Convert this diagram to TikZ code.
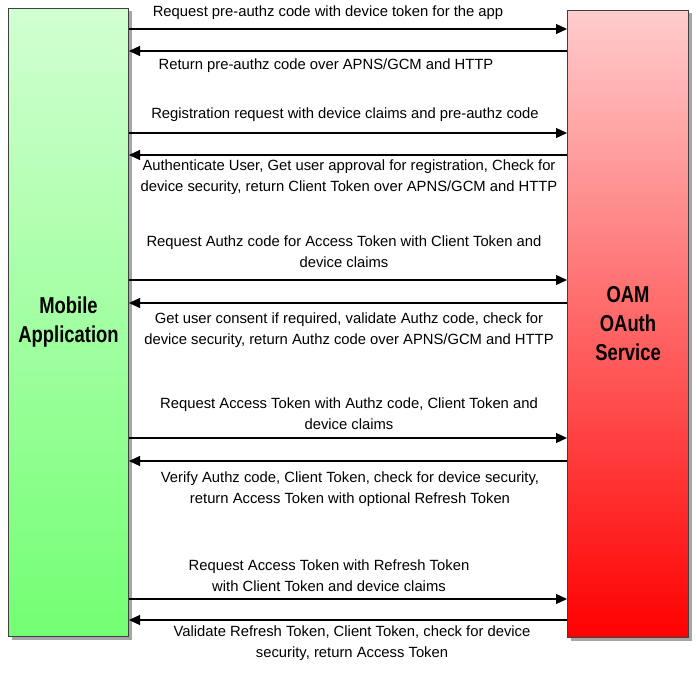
\documentclass[tikz,border=0pt]{standalone}
\usepackage{fontspec}
\setmainfont{Liberation Sans}
\newfontfamily\narrowfont[FakeStretch=0.8]{Liberation Sans}
\usetikzlibrary{arrows.meta,shadows}
\begin{document}
\begin{tikzpicture}[x=1pt,y=-1pt,
 lane/.style={draw=black!75,line width=1pt,anchor=north west,inner sep=0pt,drop shadow={shadow xshift=3pt,shadow yshift=-3pt,fill=black!35,opacity=1}},
 msg/.style={font=\fontsize{14.8}{21}\selectfont,align=center,inner sep=0pt},
 arr/.style={-{Triangle[length=11pt,width=10pt]},line width=1.2pt},
 title/.style={font=\narrowfont\bfseries\fontsize{23}{29}\selectfont,align=center}]
\useasboundingbox (0,0) rectangle (697,674);
\node[lane,minimum width=120pt,minimum height=628pt,top color=green!18,bottom color=green!55!white] (L) at (8,8) {};
\node[lane,minimum width=121pt,minimum height=627pt,top color=red!20,bottom color=red] (R) at (567,10) {};
\node[title] at (L.center) {Mobile\\Application};
\node[title] at (R.center) {OAM\\OAuth\\Service};
\foreach \y/\d in {29/r,51/l,133/r,155/l,280/r,303/l,438/r,461/l,599/r,620/l}{
  \coordinate (a\y) at (L.east |- 0,\y);
  \coordinate (b\y) at (R.west |- 0,\y);
  \if r\d \draw[arr] (a\y) -- (b\y); \else \draw[arr] (b\y) -- (a\y); \fi
}
\node[msg] (m1) at (328,13) {Request pre-authz code with device token for the app};
\node[msg] (m2) at (326,66) {Return pre-authz code over APNS/GCM and HTTP};
\node[msg] (m3) at (345,115) {Registration request with device claims and pre-authz code};
\node[msg] (m4) at (349,177) {Authenticate User, Get user approval for registration, Check for\\device security, return Client Token over APNS/GCM and HTTP};
\node[msg] (m5) at (344,252) {Request Authz code for Access Token with Client Token and\\device claims};
\node[msg] (m6) at (349,330) {Get user consent if required, validate Authz code, check for\\device security, return Authz code over APNS/GCM and HTTP};
\node[msg] (m7) at (349,414) {Request Access Token with Authz code, Client Token and\\device claims};
\node[msg] (m8) at (350,489) {Verify Authz code, Client Token, check for device security,\\return Access Token with optional Refresh Token};
\node[msg] (m9) at (329,576) {Request Access Token with Refresh Token\\with Client Token and device claims};
\node[msg] (m10) at (352,643) {Validate Refresh Token, Client Token, check for device\\security, return Access Token};
\end{tikzpicture}
\end{document}
